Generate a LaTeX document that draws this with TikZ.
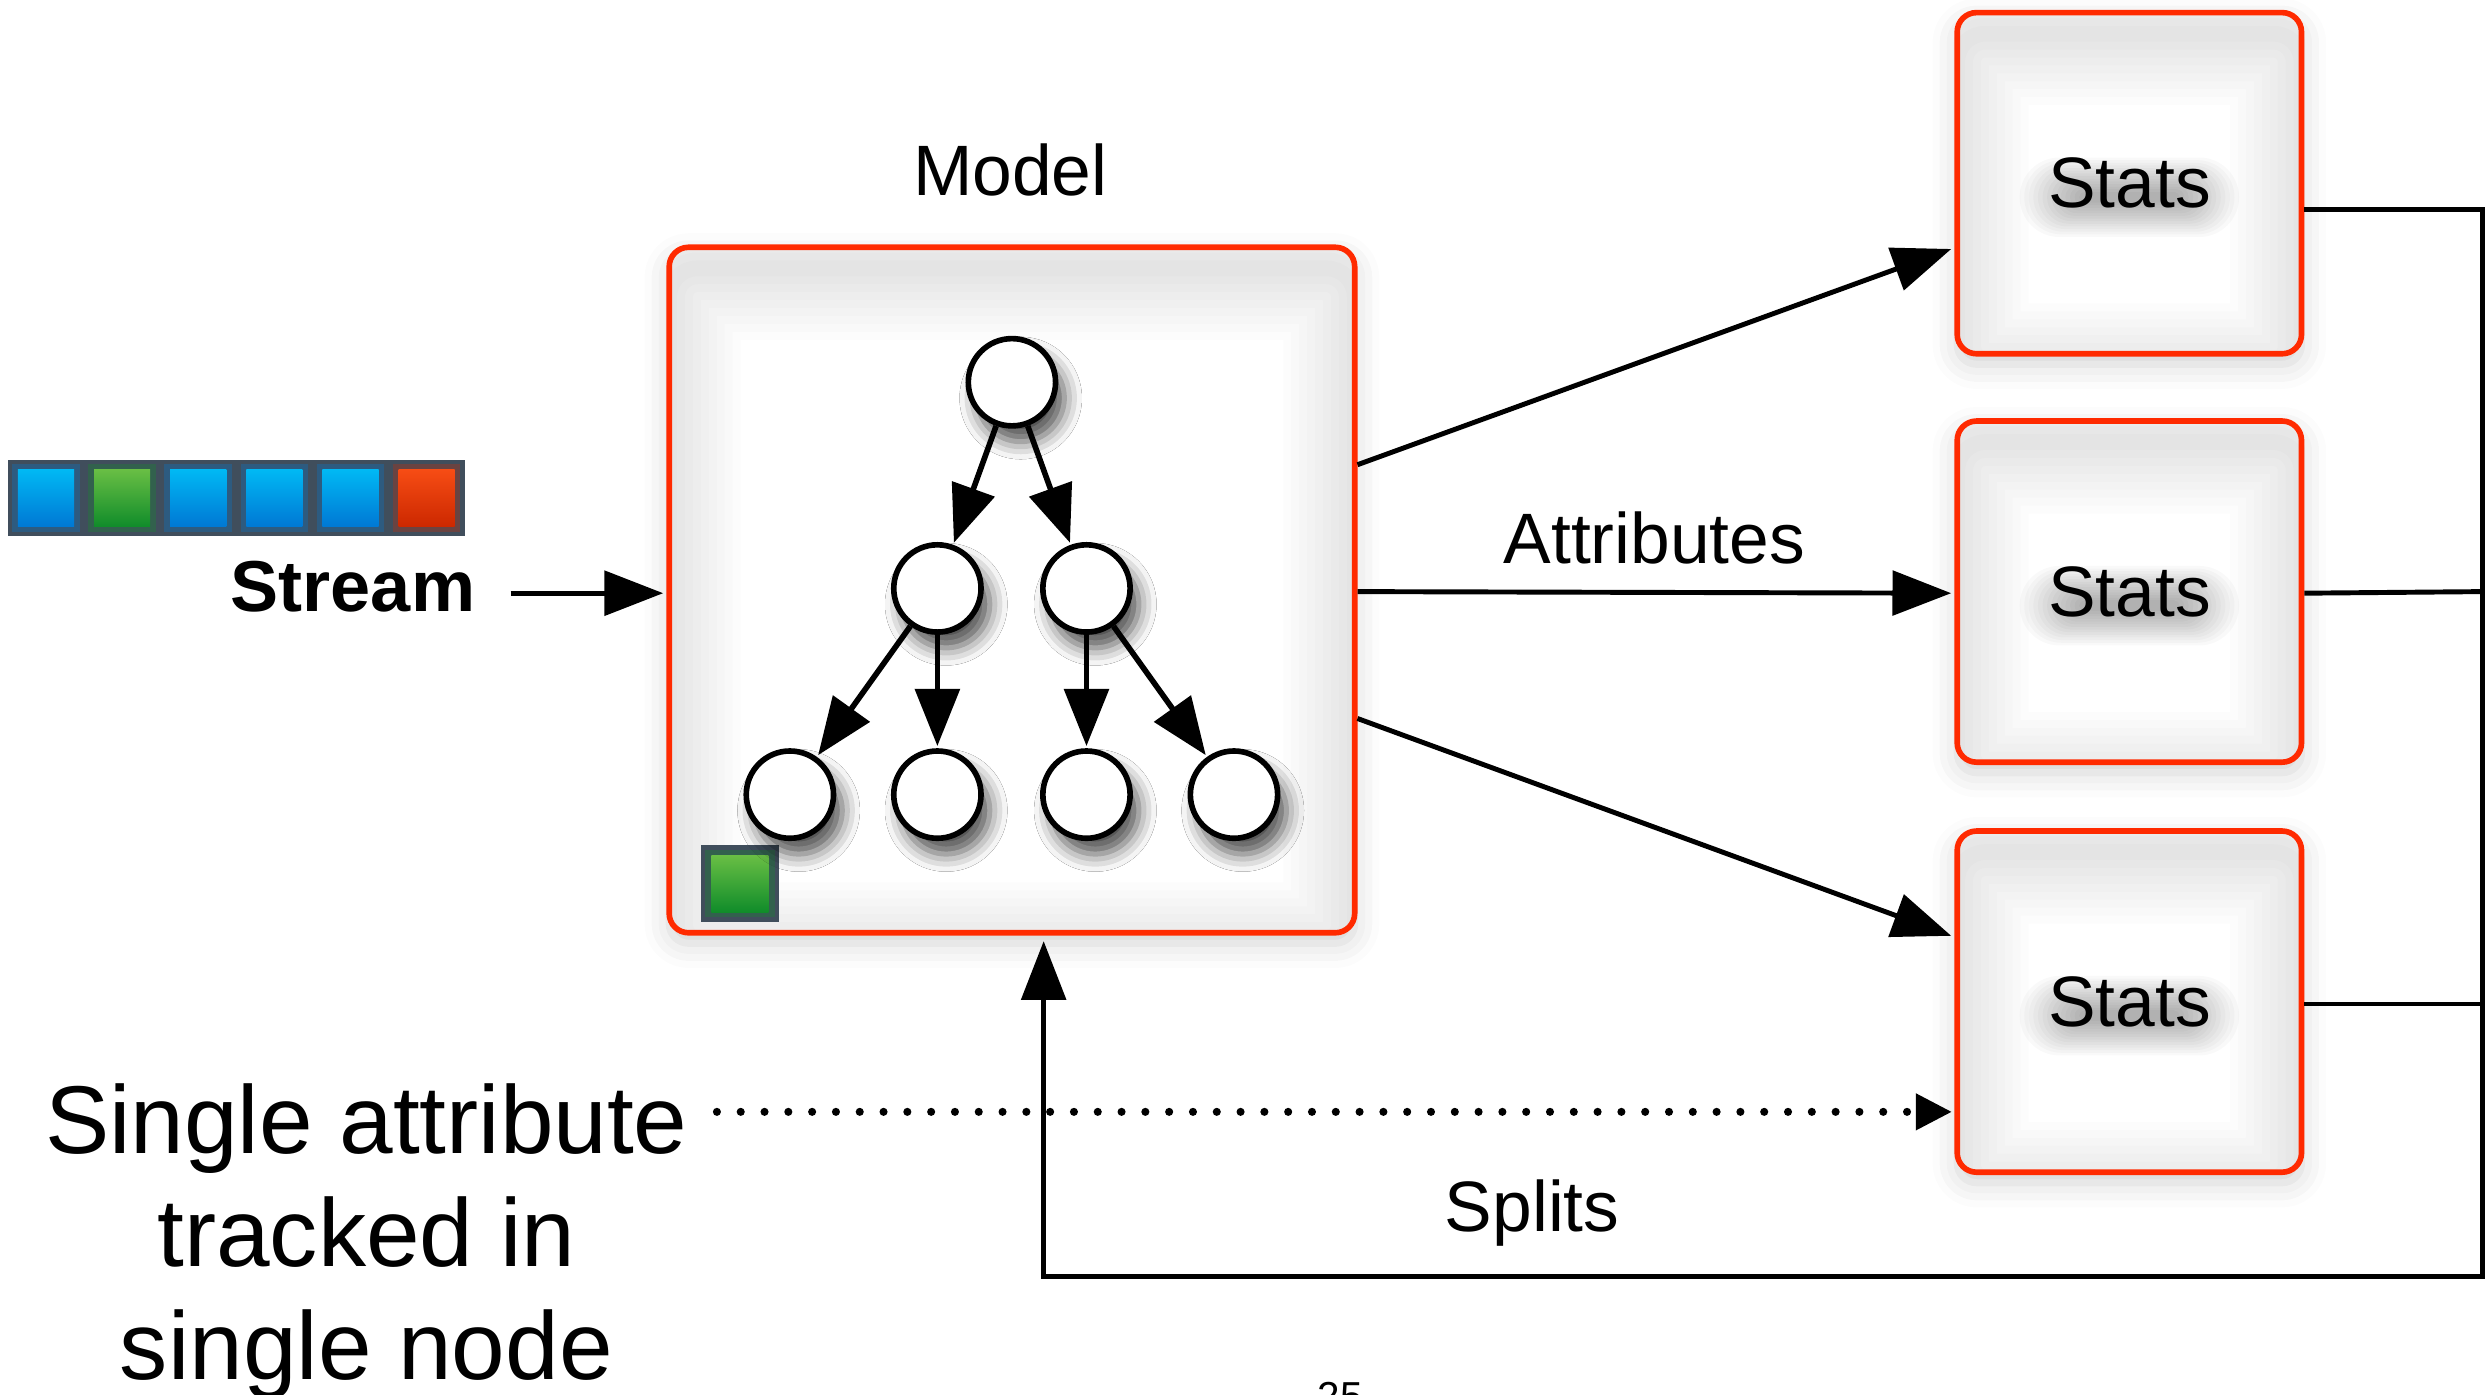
\documentclass[tikz,border=0pt]{standalone}
\usepackage{fontspec}
\setmainfont{Liberation Sans}
\usetikzlibrary{arrows.meta,calc,shadows.blur}

% one drawing unit in points
\def\U{0.451286pt}

\definecolor{boxred}{RGB}{255,42,0}
\definecolor{stripgray}{RGB}{64,78,92}
\definecolor{bluetop}{RGB}{0,184,244}
\definecolor{bluebot}{RGB}{0,120,212}
\definecolor{greentop}{RGB}{104,190,68}
\definecolor{greenbot}{RGB}{16,140,42}
\definecolor{redtop}{RGB}{246,76,20}
\definecolor{redbot}{RGB}{204,40,0}

\tikzset{
  labelfont/.style={font=\fontsize{20.3}{24}\selectfont},
  innershade/.code={%
    \foreach \w in {10,20,...,90}
      \draw[black, opacity=0.011, line width=\w*\U, rounded corners=8pt]
        ([yshift=-6pt]path picture bounding box.south west) rectangle
        ([yshift=-6pt]path picture bounding box.north east);
  },
  % soft grey glow underneath a label
  textglow/.code={%
    \foreach \k in {1,...,14} {
      \pgfmathsetmacro\hw{13+1.3*\k}
      \pgfmathsetmacro\hh{0.8+0.75*\k}
      \fill[black, opacity=0.024, rounded corners=\hh pt]
        ([xshift=-\hw pt, yshift=-4pt-\hh pt]path picture bounding box.center) rectangle
        ([xshift=\hw pt, yshift=-4pt+\hh pt]path picture bounding box.center);
    }
  },
  panel/.style={rectangle, rounded corners=5.5pt, draw=boxred, line width=1.6pt,
    fill=white, inner sep=0pt,
    blur shadow={shadow xshift=0pt, shadow yshift=-3pt, shadow blur radius=7pt, shadow opacity=18}},
  modelbox/.style={panel, path picture={\tikzset{innershade}}},
  statsbox/.style={panel, labelfont, minimum width=217*\U, minimum height=215*\U,
    path picture={\tikzset{innershade}\tikzset{textglow}}},
  vert/.style={circle, draw=black, line width=1.6pt, fill=white, minimum size=55*\U, inner sep=0pt,
    blur shadow={shadow xshift=2.5pt, shadow yshift=-4.5pt, shadow blur radius=5pt, shadow opacity=70}},
  treearrow/.style={line width=1.6pt, -{Triangle[length=16.3pt,width=12.6pt]}, shorten >=0.6pt},
  conn/.style={line width=1.4pt},
  arr/.style={conn, -{Triangle[length=16.7pt,width=12.6pt]}},
  dotarrow/.style={line width=2.3pt, line cap=round, dash pattern=on 0pt off 15*\U,
    -{Triangle[length=10.3pt,width=9.9pt]}},
}

\begin{document}
\begin{tikzpicture}[x=0.0158610cm, y=-0.0158610cm]
\useasboundingbox (0,0) rectangle (1568,879.5);

% ---- incoming stream of items ----
\fill[stripgray] (5,290) rectangle (293,338);
\foreach \i/\cl in {0/blue,1/green,2/blue,3/blue,4/blue,5/red} {
  \fill[\cl bot!30!stripgray] (5+48*\i+2.7,292.7) rectangle (5+48*\i+45.3,335.3);
  \shade[top color=\cl top, bottom color=\cl bot] (5+48*\i+6.3,296.3) rectangle (5+48*\i+41.7,332);
}
\node[font=\fontsize{20.5}{24}\selectfont\bfseries, anchor=east, inner sep=0pt] (streamlbl) at (300,370) {Stream};

% ---- model ----
\node[modelbox, minimum width=432*\U, minimum height=432*\U] (model) at (638,372) {};
\node[labelfont] (modellbl) at (637,107) {Model};

% item held at a leaf
\fill[stripgray] (442,533) rectangle (491,581);
\fill[greenbot!30!stripgray] (444.7,535.7) rectangle (488.3,578.3);
\shade[top color=greentop, bottom color=greenbot] (448.5,539.5) rectangle (484.5,575);

% tree
\node[vert] (r)  at (638,241) {};
\node[vert] (a)  at (591,371) {};
\node[vert] (b)  at (685,371) {};
\node[vert] (l1) at (498,501) {};
\node[vert] (l2) at (591,501) {};
\node[vert] (l3) at (685,501) {};
\node[vert] (l4) at (778,501) {};
\draw[treearrow] (r) -- (a);
\draw[treearrow] (r) -- (b);
\draw[treearrow] (a) -- (l1);
\draw[treearrow] (a) -- (l2);
\draw[treearrow] (b) -- (l3);
\draw[treearrow] (b) -- (l4);

% ---- statistics ----
\node[statsbox] (st1) at (1342.5,115.5) {Stats};
\node[statsbox] (st2) at (1342.5,373) {Stats};
\node[statsbox] (st3) at (1342.5,631.5) {Stats};

% ---- connectors ----
\draw[arr] (streamlbl.east) ++(22,4) -- ($(model.west)+(-2,2)$);
\draw[arr] ($(model.east)+(0,-79)$) -- ($(st1.west)+(-2,41.5)$);
\draw[arr] ($(model.east)+(0,1)$) -- ($(st2.west)+(-2,1)$);
\draw[arr] ($(model.east)+(0,81)$) -- ($(st3.west)+(-2,-41.5)$);
\node[labelfont] (attrlbl) at (1043,339) {Attributes};

% split feedback
\coordinate (rail) at (1565,805);
\coordinate (fb) at (658,805);
\draw[conn] ($(st2.east)+(0,1)$) -- (st2.east -| rail);
\draw[conn] ($(st3.east)+(0,1.5)$) -- ($(st3.east -| rail)+(0,1.5)$);
\draw[arr, line join=miter] ($(st1.east)+(0,16.5)$) -| (rail) -- (fb) -- ($(fb |- model.south)+(0,3.5)$);
\node[labelfont] (splitlbl) at (966,765) {Splits};

% note on single attribute
\begin{scope}[every node/.style={font=\fontsize{27.4}{32}\selectfont, anchor=base}]
  \node (note1) at (231,727) {Single attribute};
  \node (note2) at (231,798.5) {tracked in};
  \node (note3) at (231,870) {single node};
\end{scope}
\coordinate (dotstart) at (452,701);
\draw[dotarrow] (dotstart) -- ($(st3.west)+(-1.5,69.5)$);

% page number
\node[font=\fontsize{11.5}{12}\selectfont, anchor=base] (pagenum) at (845,889) {25};
\end{tikzpicture}
\end{document}
